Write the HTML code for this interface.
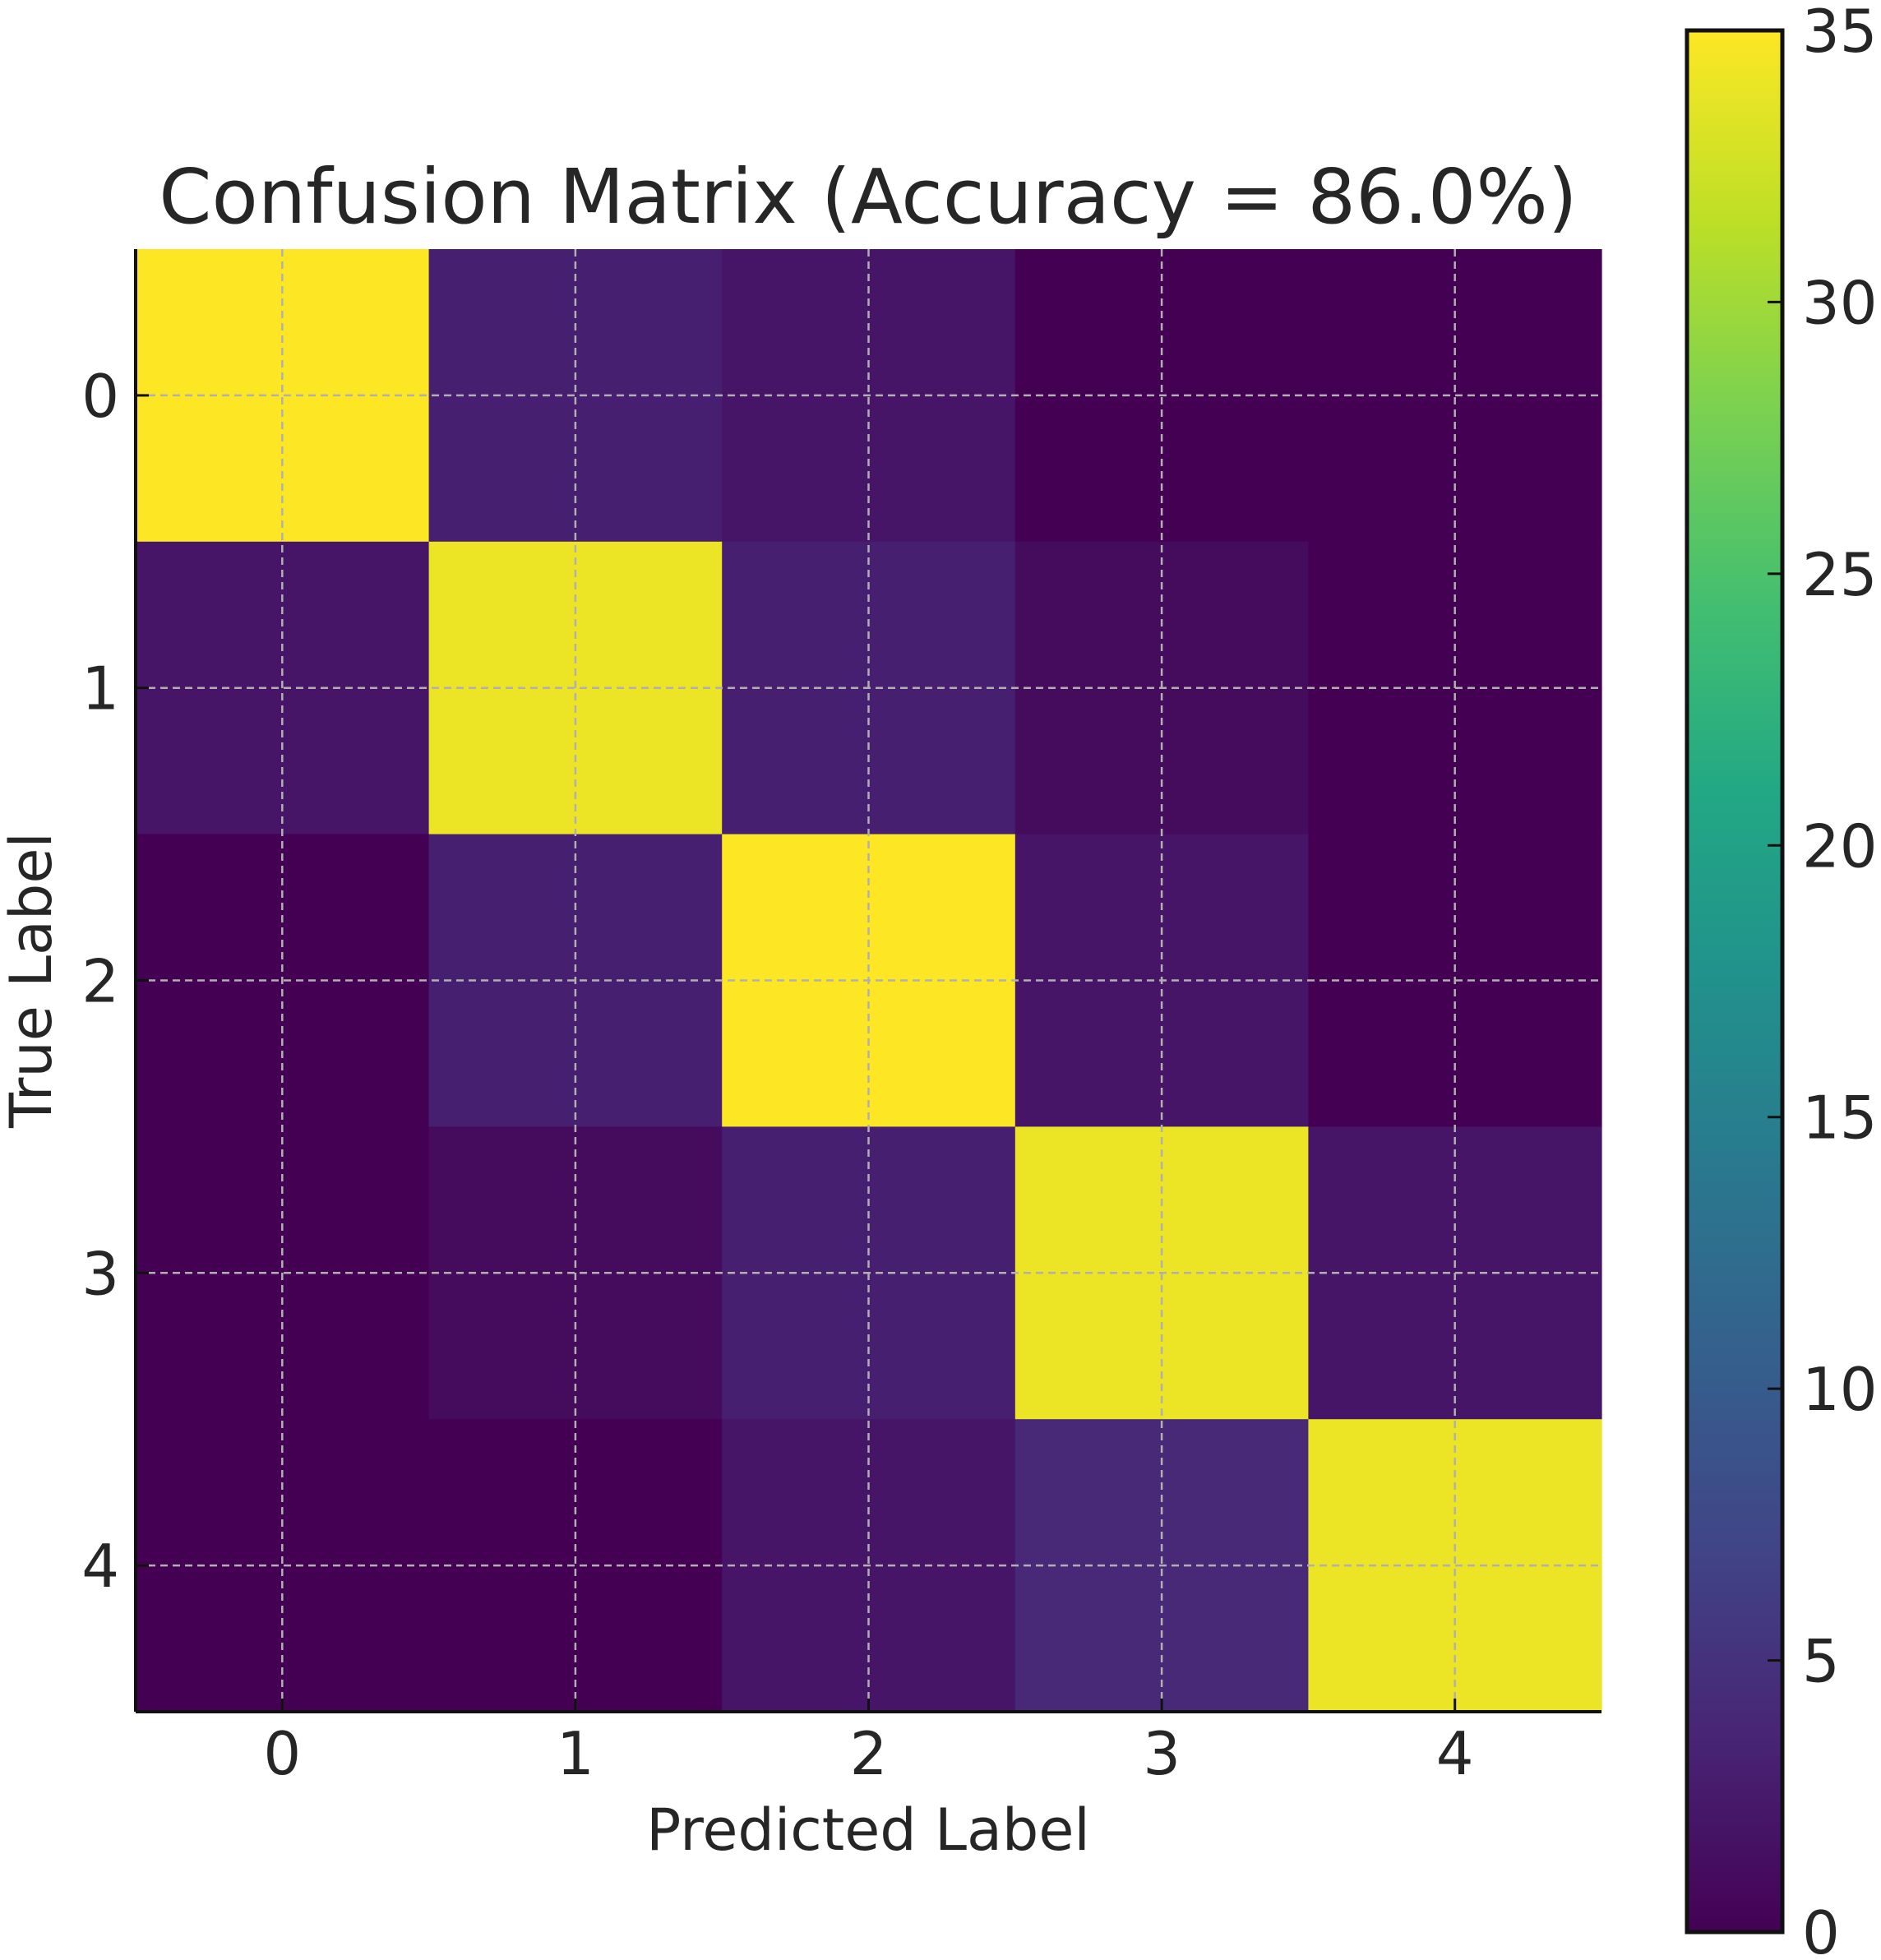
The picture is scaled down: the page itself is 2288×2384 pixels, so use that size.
<!DOCTYPE html>
<html><head><meta charset="utf-8"><style>
html,body{margin:0;padding:0;background:#fff;}
svg{display:block;font-family:"DejaVu Sans","Liberation Sans",sans-serif;}
</style></head><body>
<svg id="chart" width="2288" height="2384" viewBox="0 0 2288 2384" xmlns="http://www.w3.org/2000/svg">
<defs>
<linearGradient id="vir" x1="0" y1="1" x2="0" y2="0">
<stop offset="0" stop-color="#440154"/><stop offset="0.1" stop-color="#482475"/><stop offset="0.2" stop-color="#414487"/><stop offset="0.3" stop-color="#355f8d"/><stop offset="0.4" stop-color="#2a788e"/><stop offset="0.5" stop-color="#21918c"/><stop offset="0.6" stop-color="#22a884"/><stop offset="0.7" stop-color="#44bf70"/><stop offset="0.8" stop-color="#7ad151"/><stop offset="0.9" stop-color="#bddf26"/><stop offset="1" stop-color="#fde725"/>
</linearGradient>
</defs>
<text x="1056" y="271" font-size="92" text-anchor="middle" fill="#262626">Confusion Matrix (Accuracy = 86.0%)</text>
<g id="cells"></g>
<g id="grid"></g>
<g id="axes"></g>
<text x="1056" y="2250" font-size="70" text-anchor="middle" fill="#262626">Predicted Label</text>
<text x="0" y="0" transform="translate(62,1192) rotate(-90)" font-size="70" text-anchor="middle" fill="#262626">True Label</text>
<rect x="2052" y="37" width="116" height="2313" fill="url(#vir)" stroke="#111" stroke-width="5"/>
<g id="cbar"></g>
</svg>
<script>
const classes = ["0","1","2","3","4"];
const row0 = [35, 3, 2, 0, 0];
const row1 = [2, 34, 3, 1, 0];
const row2 = [0, 3, 35, 2, 0];
const row3 = [0, 1, 3, 34, 2];
const row4 = [0, 0, 2, 4, 34];
const matrix = [row0,row1,row2,row3,row4];
const cbarTicks = [0,5,10,15,20,25,30,35];
const vmax = 35;

const NS="http://www.w3.org/2000/svg";
const L=165,R=1948,T=303,B=2082;
const cw=(R-L)/classes.length, ch=(B-T)/classes.length;
const xs=i=>L+cw*(i+0.5), ys=i=>T+ch*(i+0.5);
const CB_T=37,CB_B=2350;
const cy=v=>CB_B-(CB_B-CB_T)*v/vmax;
const stops=[[68,1,84],[72,36,117],[65,68,135],[53,95,141],[42,120,142],[33,145,140],[34,168,132],[68,191,112],[122,209,81],[189,223,38],[253,231,37]];
function vir(t){t=Math.max(0,Math.min(1,t))*10;const i=Math.min(9,Math.floor(t)),f=t-i;const a=stops[i],b=stops[i+1];return `rgb(${a.map((c,k)=>Math.round(c+(b[k]-c)*f)).join(',')})`;}
function mk(tag,attrs,parent){const e=document.createElementNS(NS,tag);for(const k in attrs)e.setAttribute(k,attrs[k]);parent.appendChild(e);return e;}
const gc=document.getElementById('cells'),gg=document.getElementById('grid'),ga=document.getElementById('axes'),gb=document.getElementById('cbar');
matrix.forEach((row,r)=>row.forEach((v,c)=>{
  const e=mk('rect',{x:xs(c)-cw/2,y:ys(r)-ch/2,width:cw+0.6,height:ch+0.6,fill:vir(v/vmax)},gc);
  
  
}));
classes.forEach((lab,i)=>{
  const g1=mk('line',{x1:xs(i),x2:xs(i),y1:T,y2:B,stroke:'#b0b0b0','stroke-width':2.5,'stroke-dasharray':'9,6'},gg);
  
  
  const g2=mk('line',{x1:L,x2:R,y1:ys(i),y2:ys(i),stroke:'#b0b0b0','stroke-width':2.5,'stroke-dasharray':'9,6'},gg);
  
  
  mk('line',{x1:xs(i),x2:xs(i),y1:B,y2:B-16,stroke:'#111','stroke-width':3},ga);
  mk('line',{x1:L,x2:L+16,y1:ys(i),y2:ys(i),stroke:'#111','stroke-width':3},ga);
  const tx=mk('text',{x:xs(i),y:2158,'font-size':72,'text-anchor':'middle',fill:'#262626'},ga);
  tx.textContent=lab;
  
  
  const ty=mk('text',{x:145,y:ys(i)+26,'font-size':72,'text-anchor':'end',fill:'#262626'},ga);
  ty.textContent=lab;
  
  
});
mk('line',{x1:L,x2:L,y1:T,y2:B,stroke:'#111','stroke-width':4},ga);
mk('line',{x1:L,x2:R,y1:B,y2:B,stroke:'#111','stroke-width':4},ga);
cbarTicks.forEach(v=>{
  mk('line',{x1:2150,x2:2168,y1:cy(v),y2:cy(v),stroke:'#111','stroke-width':3},gb);
  const t=mk('text',{x:2192,y:cy(v)+26,'font-size':72,fill:'#262626'},gb);
  t.textContent=v;
  
  
});
</script>
</body></html>
